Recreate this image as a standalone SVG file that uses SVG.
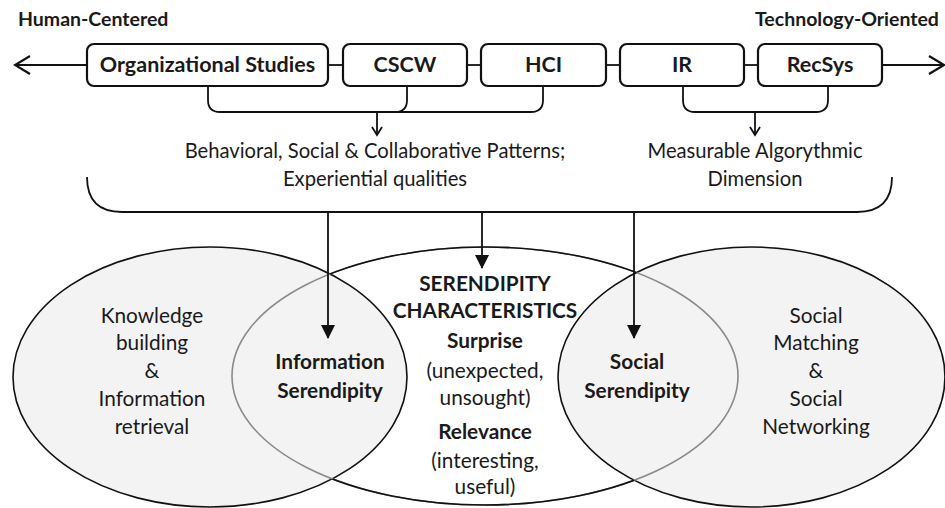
<svg xmlns="http://www.w3.org/2000/svg" width="945" height="508" viewBox="0 0 945 508">
<style>
text{font-family:Lato,"Noto Sans","Liberation Sans",sans-serif;fill:#1a1a1a;text-anchor:middle}
.b{font-weight:bold}
.h{font-size:19.5px;font-weight:bold;text-anchor:start}
.box{fill:#fff;stroke:#111;stroke-width:2.2}
.bl{font-size:21.5px;font-weight:bold}
.ln{fill:none;stroke:#111;stroke-width:1.8}
.t{font-size:20.2px}
.c{font-size:20.8px}
.ell{fill:#f3f3f3;stroke:#111;stroke-width:1.6}
</style>
<defs>
<marker id="chev" viewBox="0 0 12 12" refX="10" refY="6" markerWidth="12" markerHeight="12" markerUnits="userSpaceOnUse" orient="auto">
<path d="M2,1 L10,6 L2,11" fill="none" stroke="#111" stroke-width="1.8"/>
</marker>
<marker id="bigchev" viewBox="0 0 20 20" refX="18" refY="10" markerWidth="20" markerHeight="20" markerUnits="userSpaceOnUse" orient="auto">
<path d="M3,1 L18,10 L3,19" fill="none" stroke="#111" stroke-width="2.2"/>
</marker>
<marker id="tri" viewBox="0 0 14 14" refX="13" refY="7" markerWidth="14" markerHeight="14" markerUnits="userSpaceOnUse" orient="auto">
<path d="M0,0 L14,7 L0,14 Z" fill="#111"/>
</marker>
<mask id="outside">
<rect x="0" y="0" width="945" height="508" fill="#fff"/>
<ellipse cx="210" cy="377" rx="197" ry="130" fill="#000"/>
<ellipse cx="751.5" cy="377" rx="193.5" ry="130" fill="#000"/>
</mask>
</defs>

<text class="h" x="18" y="26">Human-Centered</text>
<text class="h" x="755" y="26">Technology-Oriented</text>

<g id="venn">
<ellipse id="middle-fill" cx="485" cy="376" rx="253" ry="129" fill="#fff" stroke="none"/>
<ellipse id="left-ellipse" class="ell" cx="210" cy="377" rx="197" ry="130"/>
<ellipse id="right-ellipse" class="ell" cx="751.5" cy="377" rx="193.5" ry="130"/>
<ellipse cx="485" cy="376" rx="253" ry="129" fill="none" stroke="#8a8a8a" stroke-width="1.6"/>
<ellipse id="middle-ellipse" cx="485" cy="376" rx="253" ry="129" fill="none" stroke="#111" stroke-width="1.6" mask="url(#outside)"/>
</g>

<g id="connectors">
<line class="ln" x1="86" y1="65" x2="15" y2="65" marker-end="url(#bigchev)" stroke-width="2.2"/>
<line class="ln" x1="882" y1="65" x2="944" y2="65" marker-end="url(#bigchev)" stroke-width="2.2"/>
<line class="ln" x1="328" y1="65" x2="343" y2="65" stroke-width="2.2"/>
<line class="ln" x1="467" y1="65" x2="481" y2="65" stroke-width="2.2"/>
<line class="ln" x1="606" y1="65" x2="620" y2="65" stroke-width="2.2"/>
<line class="ln" x1="744" y1="65" x2="758" y2="65" stroke-width="2.2"/>
<path class="ln" d="M208,86 V100 Q208,112 220,112 H395 Q407,112 407,100 V86"/>
<path class="ln" d="M390,112 H531 Q543,112 543,100 V86"/>
<line class="ln" x1="377" y1="112" x2="377" y2="135" marker-end="url(#chev)"/>
<path class="ln" d="M683,86 V100 Q683,112 695,112 H816 Q828,112 828,100 V86"/>
<line class="ln" x1="755" y1="112" x2="755" y2="135" marker-end="url(#chev)"/>
<path class="ln" d="M87,177 Q87,212 122,212 H857 Q892,212 892,177"/>
<line class="ln" x1="328" y1="212" x2="328" y2="338" marker-end="url(#tri)"/>
<line class="ln" x1="482" y1="212" x2="482" y2="268" marker-end="url(#tri)"/>
<line class="ln" x1="634" y1="212" x2="634" y2="338" marker-end="url(#tri)"/>
</g>

<g id="org-studies"><rect class="box" x="87" y="44" width="241" height="42" rx="7"/><text class="bl" x="207.5" y="72">Organizational Studies</text></g>
<g id="cscw"><rect class="box" x="343" y="44" width="124" height="42" rx="7"/><text class="bl" x="405" y="72">CSCW</text></g>
<g id="hci"><rect class="box" x="481" y="44" width="125" height="42" rx="7"/><text class="bl" x="543.5" y="72">HCI</text></g>
<g id="ir"><rect class="box" x="620" y="44" width="124" height="42" rx="7"/><text class="bl" x="682" y="72">IR</text></g>
<g id="recsys"><rect class="box" x="758" y="44" width="124" height="42" rx="7"/><text class="bl" x="820" y="72">RecSys</text></g>

<g id="behavioral"><text class="t" x="375" y="158">Behavioral, Social &amp; Collaborative Patterns;</text><text class="t" x="375" y="186">Experiential qualities</text></g>
<g id="measurable"><text class="t" x="755" y="158">Measurable Algorythmic</text><text class="t" x="755" y="186">Dimension</text></g>

<g id="knowledge"><text class="c" x="152" y="323">Knowledge</text><text class="c" x="152" y="350">building</text><text class="c" x="152" y="378">&amp;</text><text class="c" x="152" y="406">Information</text><text class="c" x="152" y="434">retrieval</text></g>
<g id="info-serendipity"><text class="c b" x="330" y="369">Information</text><text class="c b" x="330" y="398">Serendipity</text></g>
<g id="characteristics">
<text class="c b" x="485" y="291">SERENDIPITY</text>
<text class="c b" x="485" y="318">CHARACTERISTICS</text>
<text class="c b" x="485" y="348">Surprise</text>
<text class="c" x="485" y="378">(unexpected,</text>
<text class="c" x="485" y="405">unsought)</text>
<text class="c b" x="485" y="439">Relevance</text>
<text class="c" x="485" y="468">(interesting,</text>
<text class="c" x="485" y="494">useful)</text>
</g>
<g id="social-serendipity"><text class="c b" x="637" y="369">Social</text><text class="c b" x="637" y="398">Serendipity</text></g>
<g id="social-matching"><text class="c" x="816" y="323">Social</text><text class="c" x="816" y="350">Matching</text><text class="c" x="816" y="378">&amp;</text><text class="c" x="816" y="406">Social</text><text class="c" x="816" y="434">Networking</text></g>
</svg>
